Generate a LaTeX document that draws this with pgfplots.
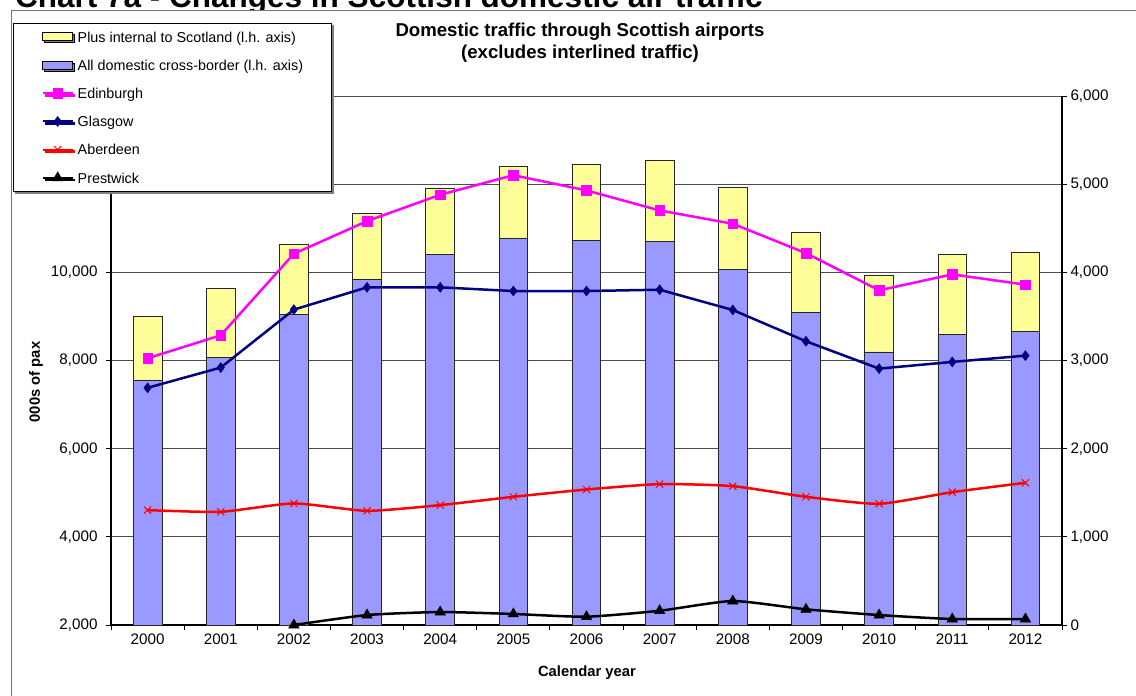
\documentclass[border=0pt]{standalone}
\usepackage{fontspec}
\setmainfont{Liberation Sans}
\usepackage{pgfplots}
\usepackage{pgfplotstable}
\pgfplotsset{compat=1.18}
\usetikzlibrary{shadows}
\definecolor{yellowc}{HTML}{FFFF99}
\definecolor{bluec}{HTML}{9999FF}
\definecolor{magc}{HTML}{FF00FF}
\definecolor{navyc}{HTML}{000080}
\definecolor{redc}{HTML}{FF0000}

\pgfplotstableread{
idx blue yellow
0 7560 1440
1 8060 1580
2 9050 1590
3 9840 1490
4 10400 1500
5 10780 1615
6 10725 1730
7 10700 1835
8 10070 1865
9 9085 1825
10 8195 1745
11 8585 1830
12 8660 1800
}\bardata

\pgfplotstableread{
idx edin glas aber
0 3025 2690 1303
1 3286 2920 1284
2 4211 3577 1379
3 4581 3830 1295
4 4880 3830 1360
5 5102 3788 1454
6 4929 3788 1537
7 4702 3803 1598
8 4551 3573 1575
9 4218 3218 1454
10 3796 2908 1375
11 3977 2984 1507
12 3860 3055 1613
}\linedata

\pgfplotstableread{
idx prest
2 0
3 113
4 147
5 125
6 94
7 162
8 272
9 178
10 113
11 68
12 68
}\prestdata

\pgfplotsset{
  mylegline/.style={legend image code/.code={\draw[##1, line width=2pt, mark repeat=2, mark phase=2] plot coordinates {(0pt,0pt) (15pt,0pt) (30pt,0pt)};}},
  mylegbox/.style={legend image code/.code={\draw[##1] (0pt,-4pt) rectangle (30pt,4pt);}},
}

\begin{document}
\begin{tikzpicture}
\useasboundingbox (0pt,0pt) rectangle (1136pt,-696pt);
\node[anchor=base west, inner sep=0pt, font=\fontsize{31.5}{36}\selectfont\bfseries] at (15pt,-7.3pt) {Chart 7a - Changes in Scottish domestic air traffic};
\fill[white] (11pt,-10.5pt) rectangle (1140pt,-700pt);
\draw[black!55, line width=1pt] (11.5pt,-700pt) -- (11.5pt,-10.5pt) -- (1140pt,-10.5pt);

\begin{axis}[
  at={(111pt,-625pt)}, anchor=south west,
  width=951pt, height=529pt, scale only axis,
  xmin=-0.5, xmax=12.5, ymin=2000, ymax=14000,
  axis x line*=bottom, axis y line*=left,
  axis line style={-, line width=1.5pt, black},
  xtick={-0.5,0.5,...,12.5}, x tick label as interval,
  xticklabels={2000,2001,2002,2003,2004,2005,2006,2007,2008,2009,2010,2011,2012},
  ytick={2000,4000,6000,8000,10000},
  extra y ticks={12000,14000}, extra y tick labels={},
  yticklabels={{2,000},{4,000},{6,000},{8,000},{10,000}},
  yticklabel style={xshift=-5pt},
  tick align=outside, major tick length=5pt,
  tick style={black, line width=1pt},
  ymajorgrids, major grid style={draw=black!70, line width=0.9pt},
  tick label style={font=\fontsize{15.2}{18}\selectfont},
  /pgf/number format/assume math mode=true,
  ybar stacked, bar width=28.7pt,
  xlabel={Calendar year}, ylabel={000s of pax},
  label style={font=\fontsize{14.8}{18}\selectfont\bfseries},
  xlabel style={at={(axis description cs:0.5005,-0.0907)}, anchor=center},
  ylabel style={at={(axis description cs:-0.0789,0.4594)}, anchor=center},
]
\addplot[fill=bluec, draw=black!85, line width=0.8pt] table[x=idx,y=blue]{\bardata};
\addplot[fill=yellowc, draw=black!85, line width=0.8pt] table[x=idx,y=yellow]{\bardata};
\end{axis}

\begin{axis}[
  at={(111pt,-625pt)}, anchor=south west,
  width=951pt, height=529pt, scale only axis,
  xmin=-0.5, xmax=12.5, ymin=0, ymax=6000,
  axis x line=none, axis y line*=right, xtick=\empty,
  axis line style={-, line width=1.5pt, black},
  ytick={0,1000,2000,3000,4000,5000,6000},
  tick align=outside, major tick length=5pt,
  tick style={black, line width=1pt},
  tick label style={font=\fontsize{15.2}{18}\selectfont},
  yticklabel style={/pgf/number format/1000 sep={,}},
  /pgf/number format/assume math mode=true,
  clip=false,
  title={Domestic traffic through Scottish airports\\(excludes interlined traffic)},
  title style={at={(axis description cs:0.4932,1.0898)}, anchor=center, align=center, font=\fontsize{18.6}{21.5}\selectfont\bfseries},
  legend cell align=left,
  legend style={
    at={(axis description cs:-0.10336,1.13856)}, anchor=north west,
    draw=black, line width=1pt, fill=white,
    inner xsep=28.5pt, inner ysep=7.5pt,
    row sep=15.9pt, column sep=4pt,
    font=\fontsize{14.35}{17}\selectfont,
    nodes={inner sep=0pt, text height=11.3pt, text depth=1pt},
    drop shadow={shadow xshift=2pt, shadow yshift=-2pt, fill=black!50, opacity=1},
  },
]
\addlegendimage{fill=yellowc, draw=black, line width=0.8pt, mylegbox}
\addlegendentry{Plus internal to Scotland (l.h. axis)}
\addlegendimage{fill=bluec, draw=black, line width=0.8pt, mylegbox}
\addlegendentry{All domestic cross-border (l.h. axis)}
\addplot[magc, line width=2.5pt, mark=square*, mark size=4.8pt, mark options={solid, line width=0.5pt}, mylegline] table[x=idx,y=edin]{\linedata};
\addlegendentry{Edinburgh}
\addplot[navyc, line width=2.5pt, mark=diamond*, mark size=5pt, mark options={solid, line width=0.5pt}, mylegline] table[x=idx,y=glas]{\linedata};
\addlegendentry{Glasgow}
\addplot[redc, line width=2.5pt, smooth, tension=0.35, mark=x, mark size=5pt, mark options={solid, line width=1pt}, mylegline] table[x=idx,y=aber]{\linedata};
\addlegendentry{Aberdeen}
\addplot[black, line width=2.5pt, smooth, tension=0.35, mark=triangle*, mark size=6pt, mark options={solid, line width=0.5pt}, mylegline] table[x=idx,y=prest]{\prestdata};
\addlegendentry{Prestwick}
\end{axis}
\end{tikzpicture}
\end{document}
